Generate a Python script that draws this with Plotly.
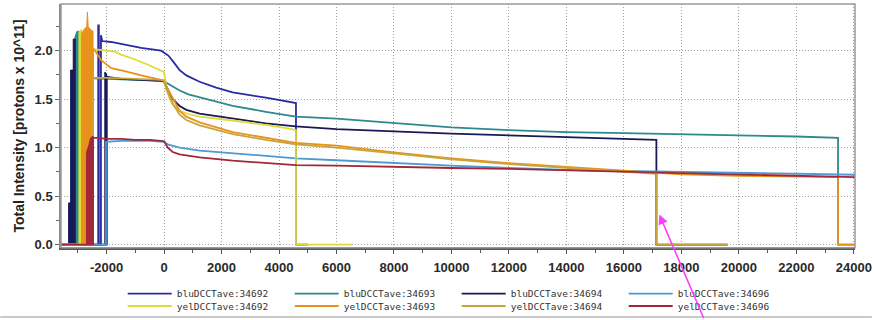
import plotly.graph_objects as go

# ---------------- data (time in s, intensity in 1e11 protons) ----------------
SERIES_NAMES = [
    "bluDCCTave:34692", "bluDCCTave:34693", "bluDCCTave:34694", "bluDCCTave:34696",
    "yelDCCTave:34692", "yelDCCTave:34693", "yelDCCTave:34694", "yelDCCTave:34696",
]
COLORS = ["#2a2aa2", "#2c8a8e", "#191957", "#4c9ad4",
          "#dcdc36", "#e8921c", "#c6a63c", "#a0283a"]

X_BLU_34692 = [-3585, -2290, -2290, -2268, -2268, -2195, -2195, -2150, -1845, -1371, -796, -104, 0,
               150, 311, 543, 775, 1236, 1814, 2388, 3544, 4465, 4590, 4590, 5000]
Y_BLU_34692 = [0, 0, 2.26, 2.26, 0, 0, 2.16, 2.10, 2.09, 2.06, 2.03, 2.00, 1.98,
               1.95, 1.89, 1.80, 1.745, 1.68, 1.62, 1.57, 1.515, 1.47, 1.46, 0, 0]

INJ_X_BLU_34693 = [-3100, -3100, -3030, -2960, -2960]
INJ_Y_BLU_34693 = [0, 2.14, 2.20, 2.20, 0]
X_BLU_34693 = [-3585, -2960, -2960, -2000, -1000, 0, 83, 300, 543, 850, 1236, 1814, 2388, 3544, 4583,
               6000, 8000, 10000, 12000, 14000, 16000, 18000, 20000, 22000, 23450, 23450, 24040]
Y_BLU_34693 = [0, 0, 1.72, 1.71, 1.70, 1.69, 1.67, 1.63, 1.59, 1.55, 1.52, 1.47, 1.43, 1.37, 1.32,
               1.30, 1.255, 1.21, 1.18, 1.16, 1.15, 1.14, 1.13, 1.115, 1.10, 0, 0]

INJ_X_BLU_34694 = [-3320, -3320, -3250, -3250, -3160, -3160, -3090, -3090, None,
                   -2060, -2060, -1995, -1995]
INJ_Y_BLU_34694 = [0, 0.43, 0.43, 1.80, 1.80, 2.12, 2.12, 0, None,
                   0, 1.78, 1.76, 0]
X_BLU_34694 = [-3585, -1995, -1995, -1500, -800, -100, 0, 83, 300, 543, 775, 1236, 2388, 3544, 4583,
               6000, 10000, 14000, 16000, 17130, 17130, 19600]
Y_BLU_34694 = [0, 0, 1.73, 1.71, 1.70, 1.69, 1.68, 1.63, 1.50, 1.43, 1.39, 1.35, 1.30, 1.25, 1.22,
               1.19, 1.145, 1.11, 1.095, 1.08, 0, 0]

X_BLU_34696 = [-3585, -2020, -2020, -1500, -500, 0, 150, 543, 1236, 2388, 3544, 4583,
               6000, 8000, 10000, 12000, 14000, 16000, 18000, 20000, 22000, 24040]
Y_BLU_34696 = [0, 0, 1.06, 1.07, 1.07, 1.06, 1.03, 1.00, 0.97, 0.94, 0.915, 0.89,
               0.87, 0.84, 0.815, 0.79, 0.77, 0.76, 0.75, 0.74, 0.73, 0.72]

INJ_X_YEL_34692 = [-2960, -2960, -2870, -2870]
INJ_Y_YEL_34692 = [0, 2.20, 2.22, 0]
X_YEL_34692 = [-3585, -2870, -2870, -2200, -1700, -1500, -1100, -600, -150, 0, 83, 200, 311, 543, 850,
               1236, 2388, 3544, 4450, 4590, 4590, 6550]
Y_YEL_34692 = [0, 0, 2.03, 2.01, 1.99, 1.96, 1.92, 1.86, 1.80, 1.78, 1.62, 1.50, 1.44, 1.38, 1.345,
               1.32, 1.28, 1.235, 1.19, 1.18, 0, 0]

INJ_X_YEL_34693 = [-2870, -2870, -2780, -2690, -2665, -2640, -2560, -2470, -2470]
INJ_Y_YEL_34693 = [0, 2.18, 2.22, 2.25, 2.40, 2.25, 2.22, 2.20, 0]
X_YEL_34693 = [-3585, -2470, -2470, -2400, -2180, -1835, -1370, -796, -104, 0, 83, 311, 543, 775,
               1236, 2388, 3544, 4583, 6000, 8000, 10000, 12000, 14000, 16000, 17130, 18000,
               20000, 22000, 23450, 23450, 24040]
Y_YEL_34693 = [0, 0, 2.02, 2.00, 1.90, 1.82, 1.79, 1.745, 1.70, 1.69, 1.63, 1.50, 1.38, 1.32,
               1.26, 1.16, 1.10, 1.05, 1.02, 0.95, 0.89, 0.84, 0.80, 0.76, 0.735, 0.725,
               0.71, 0.70, 0.695, 0, 0]

X_YEL_34694 = [-3585, -2470, -2470, -2000, -1000, -100, 0, 83, 311, 543, 775, 1236, 2388, 3544,
               4583, 6000, 8000, 10000, 12000, 14000, 16000, 17130, 17130, 19600]
Y_YEL_34694 = [0, 0, 1.72, 1.72, 1.71, 1.70, 1.69, 1.60, 1.45, 1.34, 1.285, 1.23, 1.14, 1.08,
               1.035, 1.00, 0.94, 0.88, 0.83, 0.79, 0.75, 0.73, 0, 0]

INJ_X_YEL_34696 = [-2700, -2700, -2620, -2560, -2470, -2470]
INJ_Y_YEL_34696 = [0, 0.95, 1.02, 1.10, 1.12, 0]
X_YEL_34696 = [-3585, -2470, -2470, -2300, -2000, -1500, -1000, -500, -100, 0, 130, 300, 543,
               1236, 2388, 3544, 4583, 6000, 8000, 10000, 12000, 14000, 16000, 18000, 20000,
               22000, 24040]
Y_YEL_34696 = [0, 0, 1.10, 1.10, 1.09, 1.09, 1.08, 1.08, 1.07, 1.065, 1.00, 0.955, 0.93,
               0.90, 0.865, 0.84, 0.82, 0.815, 0.80, 0.79, 0.78, 0.765, 0.75, 0.74, 0.725,
               0.71, 0.695]

X_TICKS = list(range(-2000, 24001, 2000))
X_TICK_TEXT = [str(v) for v in X_TICKS]
Y_TICKS = [0.0, 0.5, 1.0, 1.5, 2.0]
Y_TICK_TEXT = ["0.0", "0.5", "1.0", "1.5", "2.0"]
X_RANGE = [-3585, 24040]
Y_RANGE = [-0.034, 2.482]
Y_TITLE = "Total Intensity [protons x 10^11]"

ARROW_X, ARROW_Y = 17230, 0.31

LINES = [
    (X_BLU_34692, Y_BLU_34692, None, None),
    (X_BLU_34693, Y_BLU_34693, INJ_X_BLU_34693, INJ_Y_BLU_34693),
    (X_BLU_34694, Y_BLU_34694, INJ_X_BLU_34694, INJ_Y_BLU_34694),
    (X_BLU_34696, Y_BLU_34696, None, None),
    (X_YEL_34692, Y_YEL_34692, INJ_X_YEL_34692, INJ_Y_YEL_34692),
    (X_YEL_34693, Y_YEL_34693, INJ_X_YEL_34693, INJ_Y_YEL_34693),
    (X_YEL_34694, Y_YEL_34694, None, None),
    (X_YEL_34696, Y_YEL_34696, INJ_X_YEL_34696, INJ_Y_YEL_34696),
]

# ---------------- figure ----------------
fig = go.Figure()
for name, color, (xs, ys, ix, iy) in zip(SERIES_NAMES, COLORS, LINES):
    leg = "legend" if name.startswith("blu") else "legend2"
    if ix is not None:
        fig.add_trace(go.Scatter(x=ix, y=iy, mode="lines", fill="toself",
                                 fillcolor=color, line=dict(color=color, width=1),
                                 showlegend=False, hoverinfo="skip", legend=leg))
    fig.add_trace(go.Scatter(x=xs, y=ys, mode="lines", name=name,
                             line=dict(color=color, width=1.8), legend=leg))

ML, MR, MT, MB = 61, 17, 4, 71
W, H = 876, 320
PW, PH = W - ML - MR, H - MT - MB

tick_font = dict(family="Liberation Sans, Arial, sans-serif", size=13, color="#2a2a2a",
                 weight="bold")
leg_font = dict(family="DejaVu Sans Mono, Liberation Mono, monospace", size=9.5, color="#333333")

legend_common = dict(orientation="h", xanchor="left", yanchor="top",
                     xref="paper", yref="container",
                     x=(123 - ML) / PW, entrywidth=108, entrywidthmode="pixels",
                     itemwidth=44,
                     font=leg_font, bgcolor="rgba(0,0,0,0)", borderwidth=0,
                     tracegroupgap=0)

GRID = dict(showgrid=True, gridcolor="#a0a0a0", griddash="1px,2px", gridwidth=1)

fig.update_layout(
    width=W, height=H,
    margin=dict(l=ML, r=MR, t=MT, b=MB, pad=0),
    paper_bgcolor="white", plot_bgcolor="white",
    showlegend=True,
    legend=dict(legend_common, y=1 - 279.2 / H),
    legend2=dict(legend_common, y=1 - 291.5 / H),
    xaxis=dict(range=X_RANGE, tickvals=X_TICKS, ticktext=X_TICK_TEXT, tickfont=tick_font,
               ticklabelstandoff=3, **GRID,
               zeroline=False, showline=True, linecolor="#555555", linewidth=1.5,
               ticks="outside", ticklen=4, tickcolor="#555555",
               minor=dict(dtick=1000, ticks="outside", ticklen=3, tickcolor="#555555",
                          showgrid=False)),
    yaxis=dict(range=Y_RANGE, tickvals=Y_TICKS, ticktext=Y_TICK_TEXT, tickfont=tick_font,
               **GRID,
               zeroline=False, showline=True, linecolor="#888888", linewidth=1.5,
               ticks="outside", ticklen=4, tickcolor="#666666",
               minor=dict(dtick=0.25, ticks="outside", ticklen=3, tickcolor="#666666",
                          showgrid=False),
               title=dict(text=Y_TITLE, standoff=7,
                          font=dict(family="Liberation Sans, Arial, sans-serif", size=14,
                                    color="#222222", weight="bold"))),
    shapes=[
        dict(type="rect", xref="paper", yref="paper", x0=0, y0=0, x1=1, y1=1,
             line=dict(color="#9a9a9a", width=1.5), layer="above"),
        dict(type="line", xref="paper", yref="paper", x0=-ML / PW, x1=(W - ML) / PW,
             y0=-(318.5 - MT - PH) / PH, y1=-(318.5 - MT - PH) / PH,
             line=dict(color="#c8c8c8", width=2)),
    ],
    annotations=[
        dict(x=ARROW_X, y=ARROW_Y, xref="x", yref="y", text="", showarrow=True,
             ax=45, ay=105, axref="pixel", ayref="pixel",
             arrowcolor="#ff3cff", arrowwidth=1.6, arrowhead=2, arrowsize=1.2,
             standoff=0, startstandoff=0),
    ],
)

fig.write_html("out.html")
